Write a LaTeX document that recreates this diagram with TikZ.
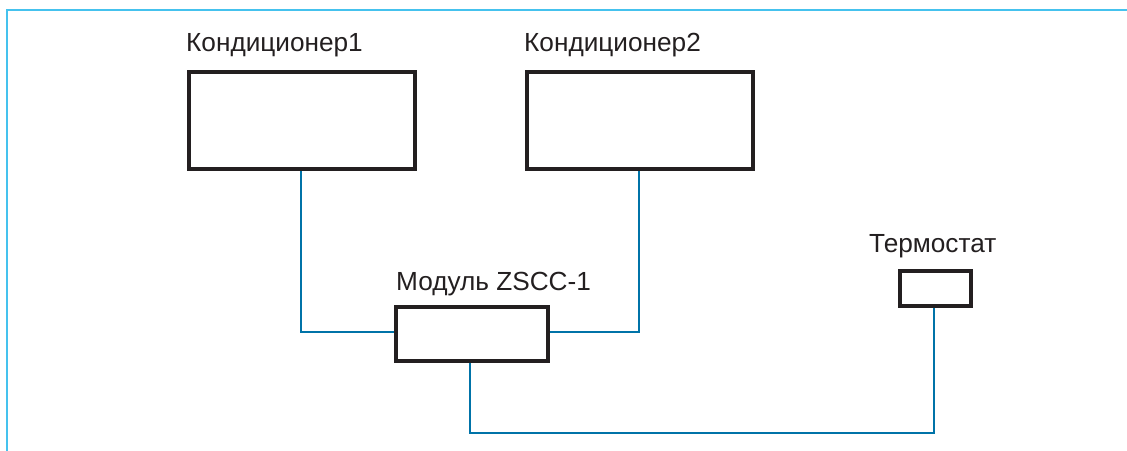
\documentclass[tikz,border=0pt]{standalone}
\usepackage{fontspec}
\setmainfont{Liberation Sans}
\definecolor{framecol}{HTML}{45C2EE}
\definecolor{wirecol}{HTML}{0073A8}
\definecolor{boxcol}{HTML}{231F20}
\begin{document}
\begin{tikzpicture}[x=1pt,y=-1pt,
  devbox/.style={draw=boxcol,line width=4pt,inner sep=0pt,anchor=north west},
  wire/.style={draw=wirecol,line width=2pt},
  lbl/.style={anchor=base west,inner sep=0pt,font=\fontsize{26.2}{31}\selectfont,text=boxcol}]
\useasboundingbox (0,0) rectangle (1127,450);
\draw[framecol,line width=2pt] (7,451) -- (7,10) -- (1128,10);
\node[devbox,minimum width=226pt,minimum height=97pt] (k1) at (187,70) {};
\node[devbox,minimum width=226pt,minimum height=97pt] (k2) at (525,70) {};
\node[devbox,minimum width=152pt,minimum height=54pt] (m) at (394,305) {};
\node[devbox,minimum width=71pt,minimum height=35pt] (t) at (898,269) {};
\node[lbl] (l1) at (186,51) {Кондиционер1};
\node[lbl] (l2) at (524,51) {Кондиционер2};
\node[lbl] (lm) at (396,290) {Модуль ZSCC-1};
\node[lbl] (lt) at (869,252) {Термостат};
\coordinate (c1) at (301,332);
\coordinate (c2) at (639,332);
\coordinate (c3) at (470,433);
\coordinate (c4) at (934,433);
\draw[wire] (k1.south -| c1) -- (c1) -- (m.west |- c1);
\draw[wire] (k2.south -| c2) -- (c2) -- (m.east |- c2);
\draw[wire] (m.south -| c3) -- (c3) -- (c4) -- (t.south -| c4);
\end{tikzpicture}
\end{document}
